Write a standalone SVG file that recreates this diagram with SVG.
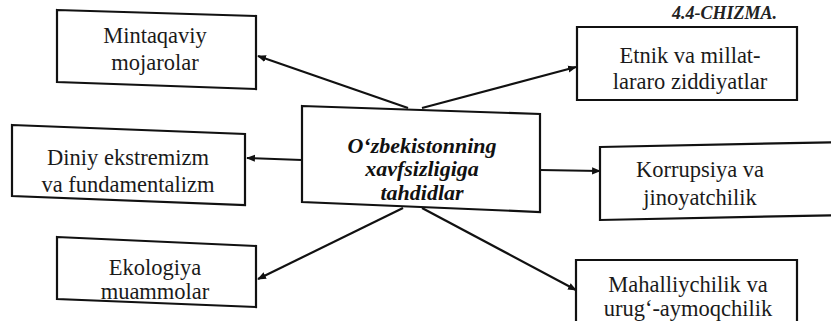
<svg xmlns="http://www.w3.org/2000/svg" width="831" height="321" viewBox="0 0 831 321">
<style>
.box{fill:#fff;stroke:#111;stroke-width:2.2;stroke-linejoin:miter}
text{font-family:'Liberation Serif','Times New Roman','DejaVu Serif','Noto Serif',serif}
.t{font-size:22.5px;fill:#1a1a1a;text-anchor:middle}
.c{font-size:22px;font-weight:bold;font-style:italic;fill:#111;text-anchor:middle}
.h{font-size:18px;font-weight:bold;font-style:italic;fill:#222}
.ln{stroke:#111;stroke-width:2.2;fill:none;marker-end:url(#ah)}
</style>
<defs>
<marker id="ah" viewBox="0 0 10 10" refX="9" refY="5" markerWidth="4" markerHeight="4" orient="auto" markerUnits="strokeWidth">
<path d="M0,1 L10,5 L0,9 z" fill="#111"/>
</marker>
</defs>
<rect width="831" height="321" fill="#fff"/>
<text class="h" x="672" y="19">4.4-CHIZMA.</text>
<g id="connectors">
<line class="ln" x1="408" y1="108" x2="258" y2="56"/>
<line class="ln" x1="422" y1="108" x2="576" y2="67"/>
<line class="ln" x1="302" y1="160" x2="247" y2="158"/>
<line class="ln" x1="540" y1="170" x2="600" y2="171"/>
<line class="ln" x1="403" y1="208" x2="258" y2="279"/>
<line class="ln" x1="422" y1="208" x2="576" y2="290"/>
</g>
<g id="center">
<polygon class="box" points="302,106 540,114 540,212 302,202"/>
<text class="c" x="422" y="153">O‘zbekistonning</text>
<text class="c" x="422" y="176">xavfsizligiga</text>
<text class="c" x="422" y="200">tahdidlar</text>
</g>
<g id="mintaqaviy">
<polygon class="box" points="57,10 256,16 256,89 57,82"/>
<text class="t" x="155" y="43">Mintaqaviy</text>
<text class="t" x="155" y="70">mojarolar</text>
</g>
<g id="etnik">
<polygon class="box" points="577,27 797,27 797,100 577,100"/>
<text class="t" x="690" y="63">Etnik va millat-</text>
<text class="t" x="690" y="89">lararo ziddiyatlar</text>
</g>
<g id="diniy">
<polygon class="box" points="12,125 245,134 245,205 12,196"/>
<text class="t" x="128" y="165">Diniy ekstremizm</text>
<text class="t" x="128" y="192">va fundamentalizm</text>
</g>
<g id="korrupsiya">
<polygon class="box" points="600,147 845,142 845,215 600,220"/>
<text class="t" x="700" y="177">Korrupsiya va</text>
<text class="t" x="700" y="205">jinoyatchilik</text>
</g>
<g id="ekologiya">
<polygon class="box" points="57,237 256,246 256,307 57,299"/>
<text class="t" x="155" y="275">Ekologiya</text>
<text class="t" x="155" y="299">muammolar</text>
</g>
<g id="mahalliychilik">
<polygon class="box" points="576,260 797,260 797,340 576,340"/>
<text class="t" x="688" y="292">Mahalliychilik va</text>
<text class="t" x="688" y="316">urug‘-aymoqchilik</text>
</g>
</svg>
